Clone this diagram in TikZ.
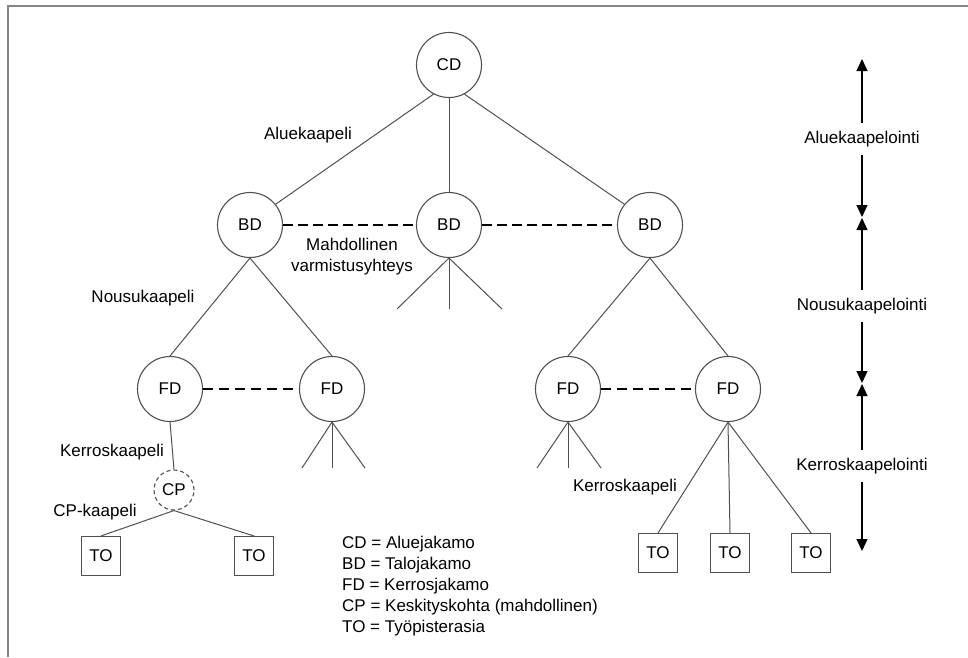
\documentclass[tikz,border=0pt]{standalone}
\usepackage{fontspec}
\setmainfont{Liberation Sans}
\usetikzlibrary{arrows.meta}
\definecolor{linegray}{HTML}{505050}
\definecolor{framegray}{HTML}{858585}
\begin{document}
\begin{tikzpicture}[x=1pt,y=-1pt,
  every node/.style={font=\fontsize{17}{21}\selectfont, text=black},
  bignode/.style={circle, draw=linegray, line width=1.1pt, minimum size=65pt, inner sep=0pt},
  cpnode/.style={circle, draw=linegray, line width=1.1pt, dash pattern=on 4pt off 3pt, minimum size=40pt, inner sep=0pt},
  tonode/.style={rectangle, draw=linegray, line width=1.1pt, minimum size=39pt, inner sep=0pt},
  cable/.style={draw=linegray, line width=1pt},
  bdlink/.style={draw=black, line width=1.8pt, dash pattern=on 10pt off 5pt},
  fdlink/.style={draw=black, line width=1.2pt, dash pattern=on 10pt off 6pt},
  lbl/.style={inner sep=0pt},
  axlabel/.style={minimum height=32pt, inner sep=0pt},
  axarr/.style={draw=black, line width=1.1pt, -{Triangle[length=12pt,width=11pt]}}
]
\useasboundingbox (0,0) rectangle (968,657);
% frame
\draw[framegray, line width=2pt] (8,657) -- (8,6) -- (968,6);

% nodes
\node[bignode] (CD) at (449,65) {CD};
\node[bignode] (BDa) at (250,225) {BD};
\node[bignode] (BDb) at (449,225) {BD};
\node[bignode] (BDc) at (650,225) {BD};
\node[bignode] (FDa) at (170,389) {FD};
\node[bignode] (FDb) at (332,389) {FD};
\node[bignode] (FDc) at (568,389) {FD};
\node[bignode] (FDd) at (728,389) {FD};
\node[cpnode] (CP) at (174,490) {CP};
\node[tonode] (TOa) at (101,556) {TO};
\node[tonode] (TOb) at (254,556) {TO};
\node[tonode] (TOc) at (658,553) {TO};
\node[tonode] (TOd) at (730,553) {TO};
\node[tonode] (TOe) at (811,553) {TO};

% stub end points
\coordinate (sb1) at (397,309);
\coordinate (sb2) at (449,309);
\coordinate (sb3) at (502,309);
\coordinate (sf1) at (302,468);
\coordinate (sf2) at (332,468);
\coordinate (sf3) at (365,468);
\coordinate (sc1) at (537,468);
\coordinate (sc2) at (568,468);
\coordinate (sc3) at (601,468);

% cables
\draw[cable] (CD.242) -- (BDa.39);
\draw[cable] (CD.south) -- (BDb.north);
\draw[cable] (CD.298) -- (BDc.141);
\draw[cable] (BDa.south) -- (FDa.north);
\draw[cable] (BDa.south) -- (FDb.north);
\draw[cable] (BDc.south) -- (FDc.north);
\draw[cable] (BDc.south) -- (FDd.north);
\draw[cable] (BDb.south) -- (sb1);
\draw[cable] (BDb.south) -- (sb2);
\draw[cable] (BDb.south) -- (sb3);
\draw[cable] (FDb.south) -- (sf1);
\draw[cable] (FDb.south) -- (sf2);
\draw[cable] (FDb.south) -- (sf3);
\draw[cable] (FDc.south) -- (sc1);
\draw[cable] (FDc.south) -- (sc2);
\draw[cable] (FDc.south) -- (sc3);
\draw[cable] (FDa.south) -- (CP.north);
\draw[cable] (CP.south) -- (TOa.north);
\draw[cable] (CP.south) -- (TOb.north);
\draw[cable] (FDd.south) -- (TOc.north);
\draw[cable] (FDd.south) -- (TOd.north);
\draw[cable] (FDd.south) -- (TOe.north);

% backup links
\draw[bdlink] (BDa.east) -- (BDb.west);
\draw[bdlink] (BDb.east) -- (BDc.west);
\draw[fdlink] (FDa.east) -- (FDb.west);
\draw[fdlink] (FDc.east) -- (FDd.west);

% labels
\node[lbl] (lAlue) at (308,135) {Aluekaapeli};
\node[lbl, align=center] (lMahd) at (352,257) {Mahdollinen\\varmistusyhteys};
\node[lbl] (lNousu) at (143,298) {Nousukaapeli};
\node[lbl] (lKerA) at (112,452) {Kerroskaapeli};
\node[lbl] (lCP) at (95,512) {CP-kaapeli};
\node[lbl] (lKerB) at (625,487) {Kerroskaapeli};
\node[lbl, align=left, anchor=west] (legend) at (342,586) {CD = Aluejakamo\\BD = Talojakamo\\FD = Kerrosjakamo\\CP = Keskityskohta (mahdollinen)\\TO = Työpisterasia};

% axis
\coordinate (a0) at (862,59);
\node[axlabel] (t1) at (862,139) {Aluekaapelointi};
\coordinate (j1) at (862,217);
\coordinate (j1b) at (862,218);
\node[axlabel] (t2) at (862,306) {Nousukaapelointi};
\coordinate (j2) at (862,383);
\coordinate (j2b) at (862,384);
\node[axlabel] (t3) at (862,466) {Kerroskaapelointi};
\coordinate (a4) at (862,551);
\draw[axarr] (t1.north) -- (a0);
\draw[axarr] (t1.south) -- (j1);
\draw[axarr] (t2.north) -- (j1b);
\draw[axarr] (t2.south) -- (j2);
\draw[axarr] (t3.north) -- (j2b);
\draw[axarr] (t3.south) -- (a4);
\end{tikzpicture}
\end{document}
